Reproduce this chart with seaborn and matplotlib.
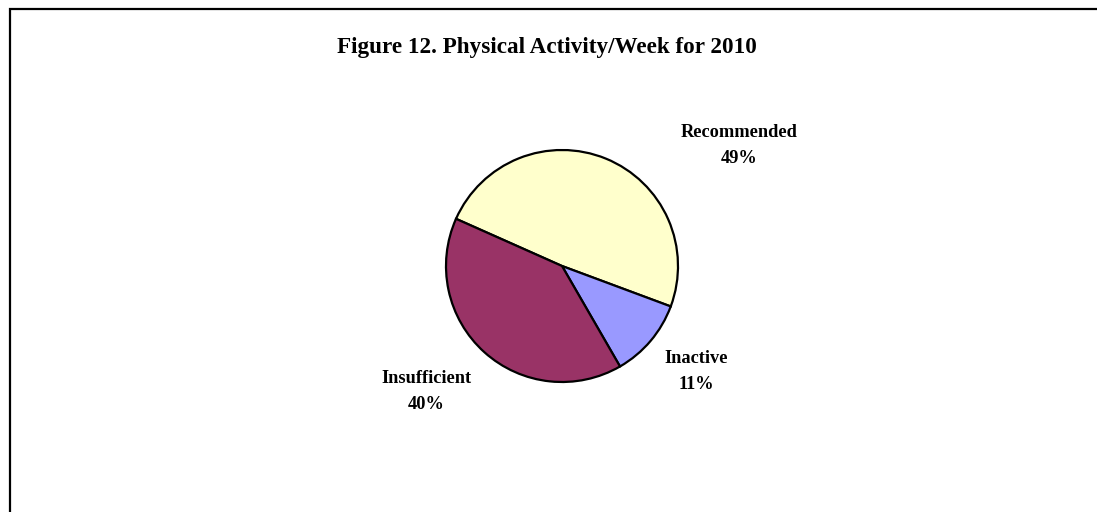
import matplotlib
matplotlib.use("Agg")
import matplotlib.pyplot as plt
import seaborn as sns
from matplotlib.patches import Rectangle

categories = ["Recommended", "Inactive", "Insufficient"]
shares = [49, 11, 40]
colors = ["#FFFFCC", "#9999FF", "#993366"]
# label anchor points, in pie radius units
label_x = [1.53, 1.16, -1.17]
label_y = [1.04, -0.91, -1.08]

sns.set_theme(style="white")
plt.rcParams["font.family"] = ["Liberation Serif", "DejaVu Serif"]
plt.rcParams["text.color"] = "black"

fig = plt.figure(figsize=(10.97, 5.12), dpi=100)
ax = fig.add_axes([446 / 1097, 130 / 512, 232 / 1097, 232 / 512])

ax.pie(shares, colors=colors, startangle=156, counterclock=False,
       wedgeprops={"edgecolor": "black", "linewidth": 1.6})
ax.set_xlim(-1, 1)
ax.set_ylim(-1, 1)
ax.set_aspect("equal")
ax.axis("off")

for name, val, x, y in zip(categories, shares, label_x, label_y):
    ax.text(x, y, f"{name}\n{val}%", ha="center", va="center", color="black",
            fontsize=13.2, fontweight="bold", linespacing=1.65, clip_on=False)

fig.text(547 / 1097, 1 - 47 / 512, "Figure 12. Physical Activity/Week for 2010",
         ha="center", va="center", fontsize=16.7, fontweight="bold", color="black")

# chart frame (right and bottom sides run past the image)
fig.patches.append(Rectangle((10 / 1097, -0.1), 1.2, 1 - 9 / 512 + 0.1,
                             transform=fig.transFigure, fill=False,
                             edgecolor="black", linewidth=1.6))

fig.savefig("out.png", dpi=100)
